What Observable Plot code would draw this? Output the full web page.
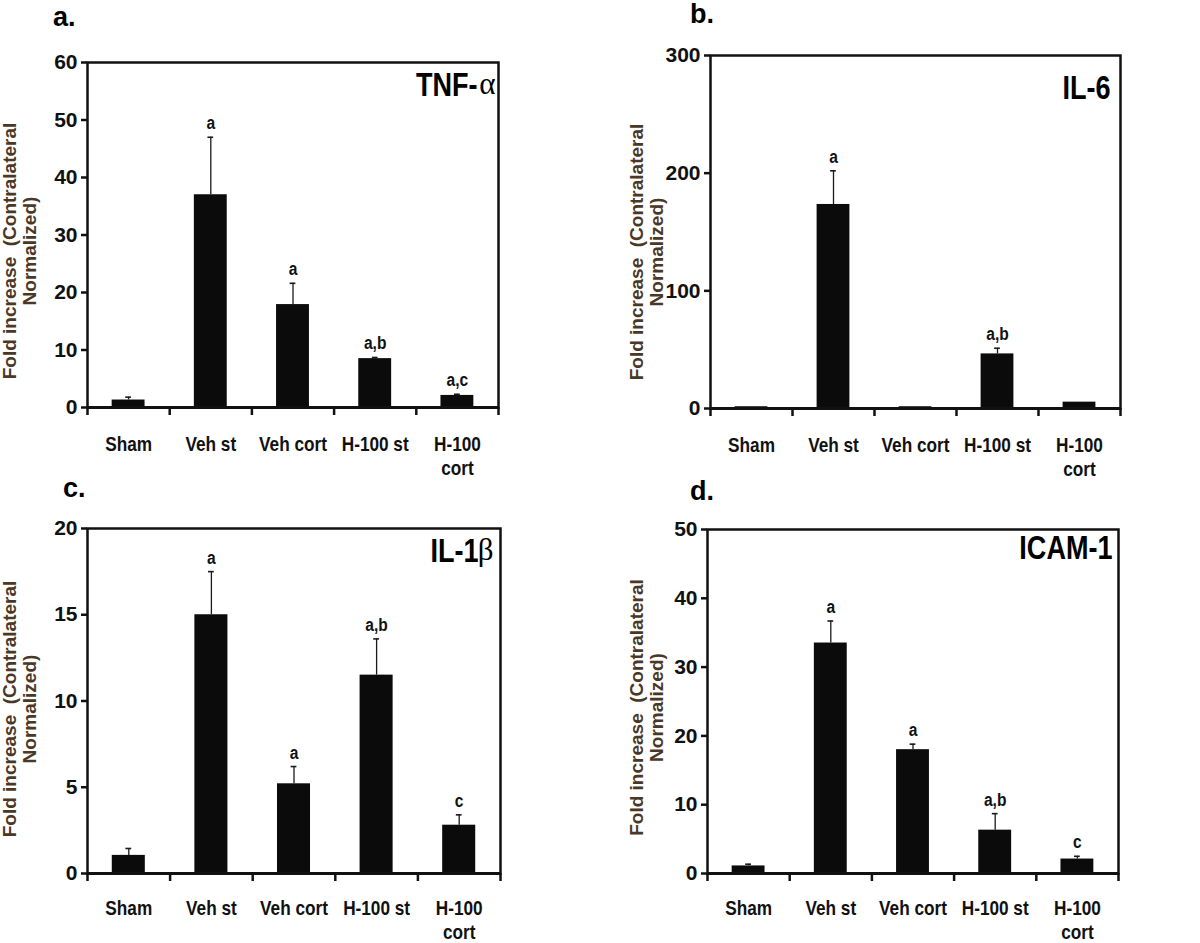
<!DOCTYPE html>
<html><head><meta charset="utf-8">
<script src="https://cdn.jsdelivr.net/npm/d3@7"></script>
<script src="https://cdn.jsdelivr.net/npm/@observablehq/plot@0.6"></script>
<style>
body{margin:0;background:#fff;}
#root{position:relative;width:1200px;height:943px;overflow:hidden;font-family:'Liberation Sans',Arial,sans-serif;background:#fff;}
.panel{position:absolute;}
.letter{position:absolute;font-weight:bold;font-size:27px;line-height:27px;color:#000;}
</style></head><body><div id="root"></div>
<script>
// Categories
const groups = ["Sham", "Veh st", "Veh cort", "H-100 st", "H-100\ncort"];
// a. TNF-alpha
const tnfMean = [1.3, 37.0, 17.9, 8.5, 2.1];
const tnfSem  = [0.5, 10.0, 3.7, 0.2, 0.2];
const tnfSig  = ["", "a", "a", "a,b", "a,c"];
const tnfTicks = [0, 10, 20, 30, 40, 50, 60];
// b. IL-6
const il6Mean = [1.5, 173.4, 1.5, 46.4, 5.4];
const il6Sem  = [0, 28.6, 0, 4.8, 0];
const il6Sig  = ["", "a", "", "a,b", ""];
const il6Ticks = [0, 100, 200, 300];
// c. IL-1beta
const il1bMean = [1.05, 15.0, 5.2, 11.5, 2.8];
const il1bSem  = [0.4, 2.5, 1.0, 2.1, 0.6];
const il1bSig  = ["", "a", "a", "a,b", "c"];
const il1bTicks = [0, 5, 10, 15, 20];
// d. ICAM-1
const icamMean = [1.1, 33.5, 18.0, 6.3, 2.1];
const icamSem  = [0.25, 3.2, 0.8, 2.4, 0.4];
const icamSig  = ["", "a", "a", "a,b", "c"];
const icamTicks = [0, 10, 20, 30, 40, 50];

const yTitle = "Fold increase  (Contralateral\nNormalized)";

const panels = [
  {letter: "a.", name: "TNF-", greek: "\u03B1", mean: tnfMean, sem: tnfSem, sig: tnfSig, ticks: tnfTicks,
   left: 0, top: 0, width: 600, height: 480, m: [62, 102, 73, 87],
   nameDx: -21, greekDx: -3, nameDy: 10, titleDx: -68, titleDy: 16, labDy: 27, letterPos: [53, 4]},
  {letter: "b.", name: "IL-6", greek: "", mean: il6Mean, sem: il6Sem, sig: il6Sig, ticks: il6Ticks,
   left: 600, top: 0, width: 600, height: 480, m: [55, 80, 72, 110],
   nameDx: -10, greekDx: 0, nameDy: 20, titleDx: -64, titleDy: 20, labDy: 27, letterPos: [690, 1]},
  {letter: "c.", name: "IL-1", greek: "\u03B2", mean: il1bMean, sem: il1bSem, sig: il1bSig, ticks: il1bTicks,
   left: 0, top: 460, width: 600, height: 483, m: [68, 100, 70, 87],
   nameDx: -22, greekDx: -7, nameDy: 10, titleDx: -68, titleDy: 8, labDy: 25, letterPos: [63, 475]},
  {letter: "d.", name: "ICAM-1", greek: "", mean: icamMean, sem: icamSem, sig: icamSig, ticks: icamTicks,
   left: 600, top: 460, width: 600, height: 483, m: [69, 82, 70, 107],
   nameDx: -6, greekDx: 0, nameDy: 6, titleDx: -61, titleDy: 6, labDy: 25, letterPos: [690, 478]}
];

const root = document.getElementById("root");

// condense a text element horizontally (Arial Narrow look)
function condense(el, k) {
  const tr = el.getAttribute("transform") || "";
  el.setAttribute("transform", tr + ` scale(${k},1)`);
}

for (const p of panels) {
  const rows = groups.map((g, i) => ({i, label: g, mean: p.mean[i], sem: p.sem[i], top: p.mean[i] + p.sem[i], sig: p.sig[i]}));
  const withErr = rows.filter(d => d.sem > 0);
  const ymax = p.ticks[p.ticks.length - 1];
  const marks = [
    Plot.rectY(rows, {x1: d => d.i + 0.3, x2: d => d.i + 0.7, y1: 0, y2: "mean", fill: "#0b0b0b"}),
    Plot.ruleX(withErr, {x: d => d.i + 0.5, y1: "mean", y2: "top", stroke: "#1a1a1a", strokeWidth: 1.3}),
    Plot.ruleY(withErr, {y: "top", x1: d => d.i + 0.5 - 0.035, x2: d => d.i + 0.5 + 0.035, stroke: "#1a1a1a", strokeWidth: 1.6}),
    Plot.text(rows, {x: d => d.i + 0.5, y: "top", text: "sig", lineAnchor: "bottom", dy: -8, fontSize: 19, fill: "#111"}),
    Plot.text(rows, {x: d => d.i + 0.5, text: "label", frameAnchor: "bottom", lineAnchor: "top", dy: p.labDy, fontSize: 21, lineHeight: 1.12, fill: "#111"}),
    Plot.frame({stroke: "#111", strokeWidth: 2.5}),
    Plot.ruleY([0], {stroke: "#111", strokeWidth: 3}),
    Plot.axisY({ticks: p.ticks, tickSize: 6, tickPadding: 4, strokeWidth: 2.5, label: null, fontSize: 21, fill: "#111", stroke: "#111"}),
    Plot.axisX({ticks: [0, 1, 2, 3, 4, 5], tickSize: 8, tickFormat: () => "", strokeWidth: 2.5, label: null, stroke: "#111"}),
    Plot.text([yTitle], {text: d => d, frameAnchor: "left", rotate: -90, dx: p.titleDx, dy: p.titleDy, fontSize: 19, lineHeight: 1.05, fill: "#4a3826", textAnchor: "middle", lineAnchor: "middle"}),
    Plot.text([p.name], {text: d => d, frameAnchor: "top-right", textAnchor: "end", lineAnchor: "top", dx: p.nameDx, dy: p.nameDy, fontSize: 33, fill: "#000"})
  ];
  if (p.greek) {
    marks.push(Plot.text([p.greek], {text: d => d, frameAnchor: "top-right", textAnchor: "end", lineAnchor: "top", dx: p.greekDx, dy: p.nameDy - 1, fontSize: 31, fontWeight: "normal", fontFamily: "'Liberation Serif', 'DejaVu Serif', serif", fill: "#000"}));
  }
  const chart = Plot.plot({
    width: p.width,
    height: p.height,
    marginTop: p.m[0], marginRight: p.m[1], marginBottom: p.m[2], marginLeft: p.m[3],
    x: {domain: [0, 5], axis: null},
    y: {domain: [0, ymax], axis: null},
    style: "background: transparent; overflow: visible; font-family: 'Liberation Sans', Arial, sans-serif; font-weight: bold; font-size: 20px; color: #111;",
    marks
  });
  // narrow look for horizontal texts of the text marks (not title, not greek)
  d3.select(chart).selectAll('g[aria-label="text"] text').each(function() {
    const t = this.textContent;
    const tr = this.getAttribute("transform") || "";
    if (!tr || tr.includes("rotate")) return;
    if (t === "\u03B1" || t === "\u03B2") return;
    condense(this, 0.82);
  });
  const wrap = document.createElement("div");
  wrap.className = "panel";
  wrap.style.left = p.left + "px";
  wrap.style.top = p.top + "px";
  wrap.appendChild(chart);
  root.appendChild(wrap);
  const lab = document.createElement("div");
  lab.className = "letter";
  lab.textContent = p.letter;
  lab.style.left = p.letterPos[0] + "px";
  lab.style.top = p.letterPos[1] + "px";
  root.appendChild(lab);
}
</script></body></html>
